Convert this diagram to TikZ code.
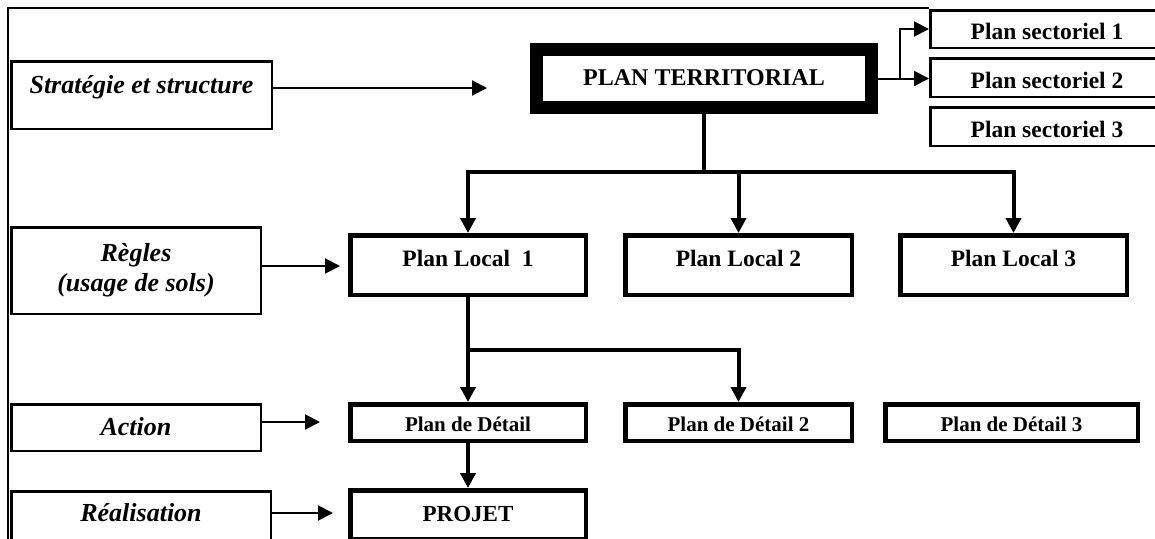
\documentclass[tikz,border=0pt]{standalone}
\usepackage{fontspec}
\setmainfont{Liberation Serif}
\usetikzlibrary{arrows.meta}

\begin{document}
\begin{tikzpicture}[x=1pt, y=-1pt,
  every node/.style={inner sep=0pt},
  tag/.style={draw, line width=2.5pt, align=center,
    font=\fontsize{26}{30}\selectfont\bfseries\itshape},
  sect/.style={draw, line width=2.5pt, minimum width=233.5pt,
    text height=21pt, text depth=0pt,
    font=\fontsize{23.5}{28}\selectfont\bfseries},
  plan/.style={draw, line width=4.5pt, minimum height=59.5pt,
    text height=16pt, text depth=12.6pt,
    font=\fontsize{23.5}{28}\selectfont\bfseries},
  detail/.style={draw, line width=4.5pt, minimum height=36.5pt,
    text height=18.4pt, text depth=0pt,
    font=\fontsize{21}{25}\selectfont\bfseries},
  link/.style={line width=2pt, -{Triangle[length=15pt,width=15pt]}},
  trunk/.style={line width=4pt},
  drop/.style={trunk, -{Triangle[length=15pt,width=15pt]}},
  frame/.style={line width=2pt}]

\useasboundingbox (0,0) rectangle (1155,538);
\clip (0,0) rectangle (1155,538);

% level labels on the left
\node[tag, minimum width=260.5pt, minimum height=67.5pt,
  text height=18pt, text depth=21.4pt] (strat) at (141.5,95) {Stratégie et structure};
\node[tag, minimum width=249.5pt, minimum height=86.5pt] (regles) at (136,270.5)
  {Règles\\(usage de sols)};
\node[tag, minimum width=249.5pt, minimum height=46.5pt,
  text height=15pt, text depth=0pt] (action) at (136,427.5) {Action};
\node[tag, minimum width=259.5pt, minimum height=48.5pt,
  text height=12.4pt, text depth=0pt] (realis) at (141,515.5) {Réalisation};

% territorial plan and its sector plans
\node[draw, line width=13pt, minimum width=335pt, minimum height=58pt,
  text height=13pt, text depth=0pt,
  font=\fontsize{24}{28}\selectfont\bfseries] (PT) at (704,78.5) {PLAN TERRITORIAL};
\node[sect, minimum height=37.5pt] (S1) at (1047,29) {Plan sectoriel 1};
\node[sect, minimum height=38.5pt] (S2) at (1047,77.5) {Plan sectoriel 2};
\node[sect, minimum height=38.5pt] (S3) at (1047,126.5) {Plan sectoriel 3};

% local plans
\node[plan, minimum width=235.5pt] (PL1) at (468,265) {Plan Local \ 1};
\node[plan, minimum width=226.5pt] (PL2) at (738.5,265) {Plan Local 2};
\node[plan, minimum width=226.5pt] (PL3) at (1013.5,265) {Plan Local 3};

% detail plans
\node[detail, minimum width=235.5pt] (PD1) at (468,422.5) {Plan de Détail};
\node[detail, minimum width=226.5pt] (PD2) at (738.5,422.5) {Plan de Détail 2};
\node[detail, minimum width=252.5pt] (PD3) at (1011.5,422.5) {Plan de Détail 3};

% project
\node[draw, line width=4.5pt, minimum width=235.5pt, minimum height=48.5pt,
  text height=14.4pt, text depth=0pt,
  font=\fontsize{23}{27}\selectfont\bfseries] (PROJET) at (468,514.5) {PROJET};

% outer frame
\coordinate (corner) at (8,8);
\draw[frame] (S1.west |- corner) -- (corner) -- (8,560);

% arrows from the level labels
\coordinate (s-end) at (487,88);
\coordinate (r-end) at (340,266);
\coordinate (a-end) at (320,422);
\coordinate (p-end) at (333,513);
\draw[link] (strat.east |- s-end) -- (s-end);
\draw[link] (regles.east |- r-end) -- (r-end);
\draw[link] (action.east |- a-end) -- (a-end);
\draw[link] (realis.east |- p-end) -- (p-end);

% sector branches
\coordinate (fork) at ([xshift=22pt]PT.east);
\draw[line width=2pt] (PT.east) -- (fork);
\draw[link] (fork) |- (S1.west);
\draw[link] (fork) -- (fork -| S2.west);

% territorial plan to local plans
\coordinate (bus1) at (0,172);
\draw[trunk] (PT.south) -- (PT.south |- bus1);
\draw[drop] (PT.south |- bus1) -| (PL1.north);
\draw[drop] (PT.south |- bus1) -| (PL2.north);
\draw[drop] (PT.south |- bus1) -| (PL3.north);

% local plan 1 to detail plans
\coordinate (bus2) at (0,350);
\draw[drop] (PL1.south) -- (PD1.north);
\draw[drop] (PL1.south |- bus2) -| (PD2.north);

% detail plan to project
\draw[drop] (PD1.south) -- (PROJET.north);
\end{tikzpicture}
\end{document}
